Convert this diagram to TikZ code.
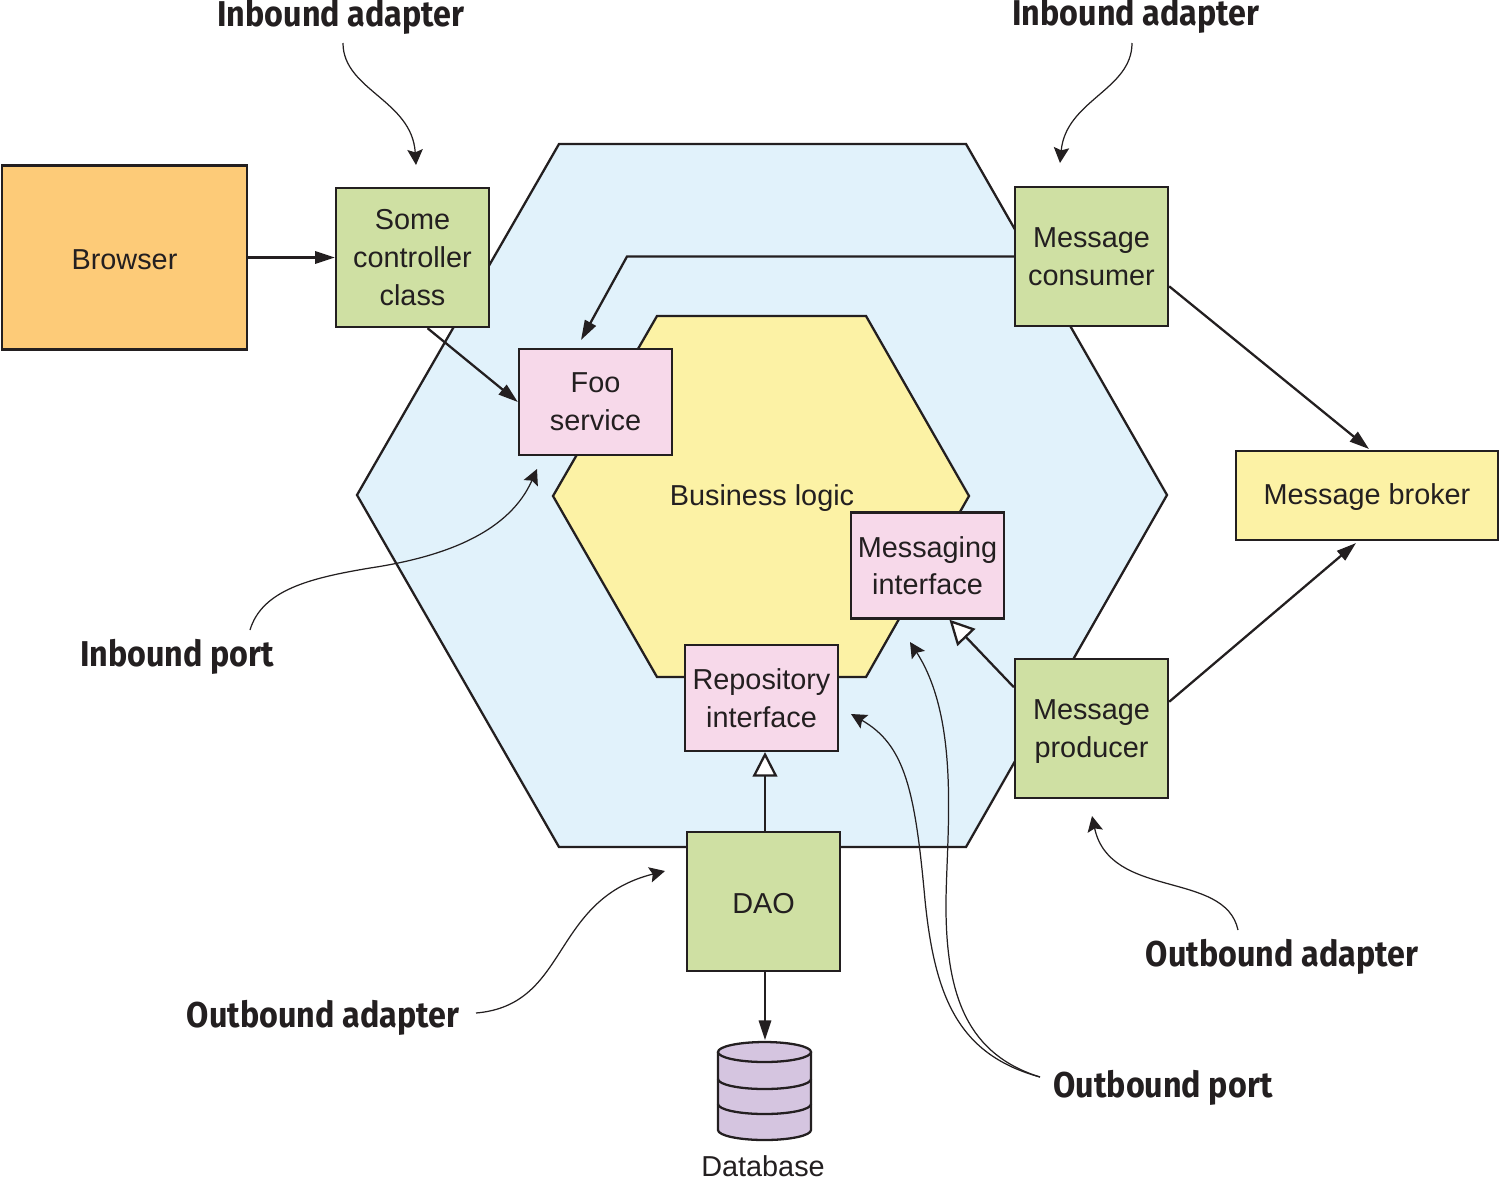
\documentclass[tikz,border=0pt]{standalone}
\usepackage{fontspec}
\usepackage{tikz}
\usetikzlibrary{positioning,calc,arrows.meta}
\setmainfont{Liberation Sans}
\newfontfamily\calloutfont[FakeStretch=0.9]{Fira Sans}
\definecolor{cink}{HTML}{231F20}
\definecolor{cblue}{HTML}{E1F2FB}
\definecolor{cyellow}{HTML}{FCF2A5}
\definecolor{cgreen}{HTML}{CFE0A3}
\definecolor{cpink}{HTML}{F7D9EA}
\definecolor{corange}{HTML}{FDCB78}
\definecolor{cpurple}{HTML}{D5C5E0}
\tikzset{
  plaintext/.style={text=cink,inner sep=0pt,align=center,font=\fontsize{8.2}{10.7}\selectfont,
    execute at begin node={\rule{0pt}{6.9pt}}},
  box/.style={plaintext,draw=cink,line width=0.65pt},
  adapterbox/.style={box,fill=cgreen,minimum width=1.53cm,minimum height=1.39cm},
  portbox/.style={box,fill=cpink,minimum width=1.53cm,minimum height=1.06cm},
  callout/.style={text=cink,font=\calloutfont\bfseries\fontsize{10.2}{12}\selectfont},
  link/.style={cink,line width=0.65pt,-{Triangle[length=5.6pt,width=3.5pt]}},
  realize/.style={cink,line width=0.65pt,-{Triangle[fill=white,length=7pt,width=7pt]}},
  pointer/.style={cink,line width=0.35pt,-{Stealth[length=4.4pt,width=4.4pt,inset=0.8pt]}},
}
\begin{document}
\begin{tikzpicture}[x=0.01cm,y=-0.01cm]
  \useasboundingbox (0,0) rectangle (1500,1178);
  % hexagons
  \draw[cink,line width=0.65pt,fill=cblue] (559,144) -- (966,144) -- (1167,495) -- (966,847) -- (559,847) -- (357,495) -- cycle;
  \draw[cink,line width=0.65pt,fill=cyellow] (657,316) -- (866,316) -- (969,496) -- (866,677) -- (657,677) -- (553,496) -- cycle;
  \node[plaintext] (logic) at (762,496) {Business logic};

  \node[box,fill=corange,minimum width=2.45cm,minimum height=1.84cm] (browser) at (124.5,257.5) {Browser};
  \node[adapterbox] (controller) at (412.5,257.5) {Some\\controller\\class};
  \node[adapterbox] (consumer) at (1091.5,256.5) {Message\\consumer};
  \node[adapterbox] (producer) at (1091.5,728.5) {Message\\\smash{producer}};
  \node[adapterbox] (dao) at (763.5,901.5) {DAO};
  \node[portbox] (foo) at (595.5,402) {Foo\\service};
  \node[portbox] (messaging) at (927.5,565.5) {Messaging\\interface};
  \node[portbox] (repository) at (761.5,698) {Repository\\interface};
  \node[box,fill=cyellow,minimum width=2.62cm,minimum height=0.89cm] (broker) at (1367,495.5) {Message broker};

  % database
  \draw[cink,line width=0.65pt,fill=cpurple] (718,1052) -- (718,1130) arc[start angle=180,end angle=0,x radius=46.5,y radius=10] -- (811,1052);
  \draw[cink,line width=0.65pt,fill=cpurple] (764.5,1052) ellipse[x radius=46.5,y radius=10];
  \foreach \ring in {1079,1104}{
    \draw[cink,line width=0.65pt] (718,\ring) arc[start angle=180,end angle=0,x radius=46.5,y radius=10];
  }
  \node[plaintext] (database) at (763,1164) {Database};

  % free ends
  \coordinate (fooin) at (581,340);
  \coordinate (brokerin) at (1356,543);
  \coordinate (brokertop) at (1369,449);
  \coordinate (repoin) at (765,752);
  \coordinate (dbin) at (765,1040);
  \coordinate (bendtop) at (627,256.5);

  \draw[link] (browser.east) -- (controller.west);
  \draw[link] (controller.-78) -- (foo.west);
  \draw[link] (consumer.west) -- (bendtop) -- (fooin);
  \draw[link] (consumer.-21) -- (brokertop);
  \draw[link] (producer.19) -- (brokerin);
  \draw[link] (dao.south -| dbin) -- (dbin);
  \draw[realize] (producer.152) -- (messaging.-68);
  \draw[realize] (dao.north -| repoin) -- (repoin);

  % labels and their pointers
  \node[callout] (inleft) at (341,17) {Inbound adapter};
  \node[callout] (inright) at (1136,16) {Inbound adapter};
  \node[callout] (inport) at (177,657) {Inbound port};
  \node[callout] (outleft) at (323,1018) {Outbound adapter};
  \node[callout] (outright) at (1282,957) {Outbound adapter};
  \node[callout] (outport) at (1163,1088) {Outbound port};

  \coordinate (inleftend) at (416,165);
  \coordinate (inrightend) at (1060,163);
  \coordinate (inportend) at (537,469);
  \coordinate (outleftend) at (665,871);
  \coordinate (outrightend) at (1092,816);
  \coordinate (reposend) at (851,714);
  \coordinate (msgend) at (910,642);

  \draw[pointer] (343,43) .. controls (343,90) and (412,100) .. (inleftend);
  \draw[pointer] (1132,43) .. controls (1132,90) and (1066,100) .. (inrightend);
  \draw[pointer] (250,630) .. controls (262,590) and (310,578) .. (370,568) .. controls (450,556) and (510,530) .. (inportend);
  \draw[pointer] (476,1013) .. controls (570,1005) and (550,900) .. (outleftend);
  \draw[pointer] (1238,930) .. controls (1225,870) and (1110,900) .. (outrightend);
  \draw[pointer] (1040,1077) .. controls (960,1055) and (935,1000) .. (925,900) .. controls (915,790) and (905,745) .. (reposend);
  \draw[pointer] (1040,1077) .. controls (970,1055) and (945,1000) .. (946,900) .. controls (947,830) and (960,720) .. (msgend);
\end{tikzpicture}
\end{document}
